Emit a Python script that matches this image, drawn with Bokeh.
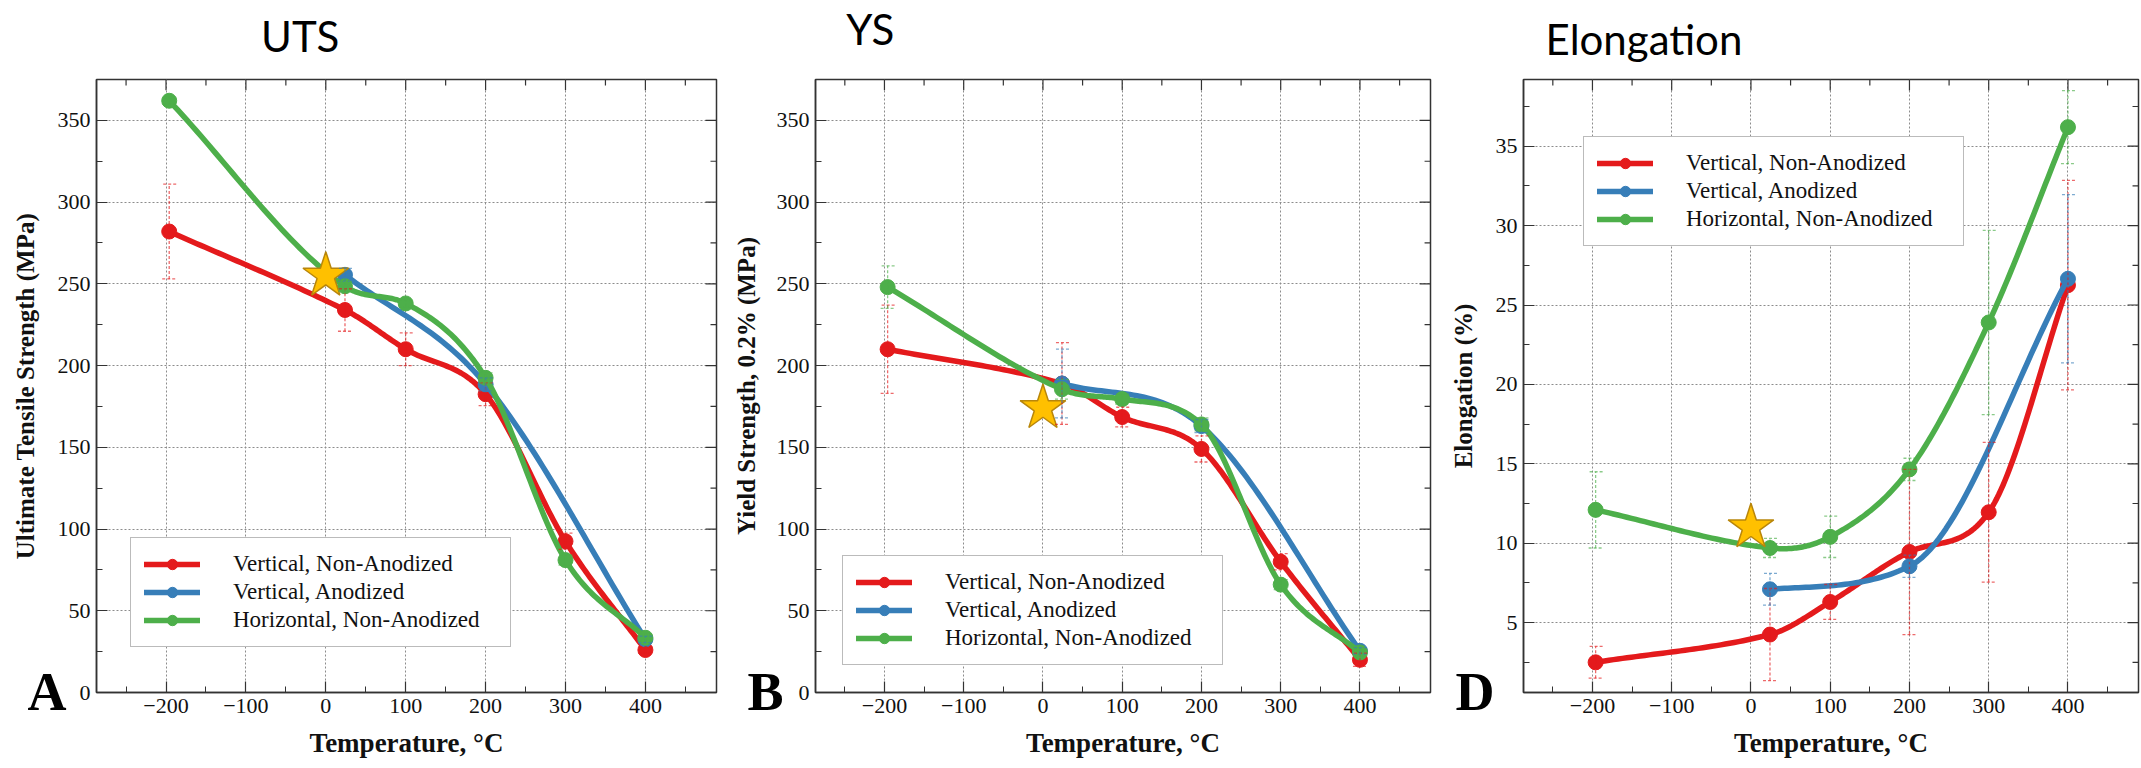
import numpy as np
from bokeh.plotting import figure
from bokeh.models import (ColumnDataSource, Whisker, TeeHead, Legend, LegendItem,
                          LinearAxis, FixedTicker, Range1d, CustomJSTickFormatter)
from bokeh.layouts import row
from bokeh.embed import file_html
from bokeh.resources import INLINE

# ---------------- data ----------------
temps = [-196, 24, 100, 200, 300, 400]
temps_anod = [24, 200, 400]
series_names = ["Vertical, Non-Anodized", "Vertical, Anodized", "Horizontal, Non-Anodized"]
series_colors = ["#E41A1C", "#377EB8", "#4DAF4A"]

uts_vna = [282, 234, 210, 182.5, 92.5, 26]
uts_vna_err = [29, 13, 10, 7, 5, 2]
uts_va = [255.5, 188.5, 32.5]
uts_va_err = [4, 4, 2]
uts_hna = [362, 248.5, 238, 192.5, 81, 33.5]
uts_hna_err = [2, 3, 2, 3, 3, 2]

ys_vna = [210, 189, 168.5, 149, 80, 20]
ys_vna_err = [27, 25, 6, 8, 5, 4]
ys_va = [189, 163, 25.5]
ys_va_err = [21, 4, 2]
ys_hna = [248, 185.5, 179.5, 164, 66, 24.5]
ys_hna_err = [13, 6, 3, 4, 3, 2]

el_vna = [2.5, 4.25, 6.3, 9.45, 11.95, 26.25]
el_vna_err = [1.0, 2.9, 1.1, 5.2, 4.4, 6.6]
el_va = [7.1, 8.55, 26.65]
el_va_err = [1.0, 0.7, 5.3]
el_hna = [12.1, 9.7, 10.4, 14.65, 23.9, 36.2]
el_hna_err = [2.4, 0.6, 1.3, 0.7, 5.8, 2.3]

star_x = [0]
star_uts = [255]
star_ys = [174]
star_el = [11]

x_ticks = [-200, -100, 0, 100, 200, 300, 400]
x_tick_labels = ["\u2212200", "\u2212100", "0", "100", "200", "300", "400"]
x_minor = [-250, -150, -50, 50, 150, 250, 350, 450]
ys_ticks = [0, 50, 100, 150, 200, 250, 300, 350]
ys_minor = [25, 75, 125, 175, 225, 275, 325, 375]
el_ticks = [5, 10, 15, 20, 25, 30, 35]
el_minor = [2.5, 7.5, 12.5, 17.5, 22.5, 27.5, 32.5, 37.5]

SERIF = "Liberation Serif"
XR = (-287, 489)
H = 768


def smooth_curve(xs, ys, n=40):
    """Smooth (monotonicity-limited cubic Hermite) path through the data points."""
    x = np.asarray(xs, float)
    y = np.asarray(ys, float)
    h = np.diff(x)
    d = np.diff(y) / h
    m = np.empty_like(y)
    m[0] = d[0]
    m[-1] = d[-1]
    for i in range(1, len(x) - 1):
        m[i] = (y[i + 1] - y[i - 1]) / (x[i + 1] - x[i - 1])
    for i in range(len(d)):
        if d[i] == 0:
            m[i] = m[i + 1] = 0
            continue
        a, b = m[i] / d[i], m[i + 1] / d[i]
        s = a * a + b * b
        if s > 9:
            tau = 3 / np.sqrt(s)
            m[i] = tau * a * d[i]
            m[i + 1] = tau * b * d[i]
    cx, cy = [], []
    for i in range(len(x) - 1):
        t = np.linspace(0, 1, n)
        h00 = 2 * t**3 - 3 * t**2 + 1
        h10 = t**3 - 2 * t**2 + t
        h01 = -2 * t**3 + 3 * t**2
        h11 = t**3 - t**2
        seg_y = h00 * y[i] + h10 * h[i] * m[i] + h01 * y[i + 1] + h11 * h[i] * m[i + 1]
        seg_x = x[i] + t * h[i]
        cx.extend(seg_x.tolist())
        cy.extend(seg_y.tolist())
    return cx, cy


def style_axis(ax, ticker):
    ax.ticker = ticker
    ax.axis_line_color = "#333333"
    ax.axis_line_width = 1.5
    ax.major_tick_in = 11
    ax.major_tick_out = 0
    ax.minor_tick_in = 6
    ax.minor_tick_out = 0
    ax.major_tick_line_color = "#333333"
    ax.minor_tick_line_color = "#333333"
    ax.major_tick_line_width = 1.2
    ax.minor_tick_line_width = 1.0
    ax.major_label_text_font = SERIF
    ax.major_label_text_font_size = "22px"
    ax.major_label_text_color = "#111111"
    ax.major_label_standoff = 6


def bare_axis(ax):
    ax.axis_line_color = None
    ax.major_tick_line_color = None
    ax.minor_tick_line_color = None
    ax.major_tick_in = 0
    ax.major_tick_out = 0
    ax.minor_tick_in = 0
    ax.minor_tick_out = 0


def make_panel(width, borders, yrange, yticks, yminor, ylabel, data, star_y,
               title, title_x, title_standoff, letter, letter_standoff,
               ylabel_standoff, legend_xy):
    bl, br, bt, bb = borders
    p = figure(width=width, height=H, x_range=Range1d(*XR),
               y_range=Range1d(*yrange), output_backend="svg", toolbar_location=None,
               min_border_left=bl, min_border_right=br, min_border_top=bt,
               min_border_bottom=bb)
    p.title.visible = False
    p.background_fill_color = "white"
    p.border_fill_color = "white"
    p.outline_line_color = "#333333"
    p.outline_line_width = 1.5

    xt = FixedTicker(ticks=x_ticks, minor_ticks=x_minor)
    yt = FixedTicker(ticks=yticks, minor_ticks=yminor)
    style_axis(p.xaxis[0], xt)
    style_axis(p.yaxis[0], yt)
    p.xaxis[0].major_label_overrides = {v: s for v, s in zip(x_ticks, x_tick_labels)}
    p.xaxis[0].axis_label = "Temperature, \u00b0C"
    p.xaxis[0].axis_label_text_font = SERIF
    p.xaxis[0].axis_label_text_font_style = "bold"
    p.xaxis[0].axis_label_text_font_size = "27px"
    p.xaxis[0].axis_label_text_color = "#111111"
    p.xaxis[0].axis_label_standoff = 12

    # panel title (above the frame)
    tax = LinearAxis(ticker=FixedTicker(ticks=[title_x]),
                     formatter=CustomJSTickFormatter(code="return '%s'" % title))
    bare_axis(tax)
    tax.major_label_text_font = "Lato"
    tax.major_label_text_font_size = "42px"
    tax.major_label_text_color = "black"
    tax.major_label_standoff = title_standoff
    p.add_layout(tax, "above")

    # outer left axis: carries the panel letter and the y-axis title
    eps = (yrange[1] - yrange[0]) * 0.001
    lax = LinearAxis(ticker=FixedTicker(ticks=[yrange[0] + eps]),
                     formatter=CustomJSTickFormatter(code="return '%s'" % letter))
    bare_axis(lax)
    lax.major_label_text_font = SERIF
    lax.major_label_text_font_style = "bold"
    lax.major_label_text_font_size = "54px"
    lax.major_label_text_color = "black"
    lax.major_label_standoff = letter_standoff
    lax.axis_label = ylabel
    lax.axis_label_text_font = SERIF
    lax.axis_label_text_font_style = "bold"
    lax.axis_label_text_font_size = "25px"
    lax.axis_label_text_color = "#111111"
    lax.axis_label_standoff = ylabel_standoff
    p.add_layout(lax, "left")

    # mirrored inward ticks on the top and right frame edges
    fw = width - bl - br
    fh = H - bt - bb
    dx = (XR[1] - XR[0]) / fw
    dy = (yrange[1] - yrange[0]) / fh
    tk = dict(line_color="#333333", line_width=1.2)
    p.segment(x0=x_ticks, y0=[yrange[1]] * len(x_ticks), x1=x_ticks,
              y1=[yrange[1] - 11 * dy] * len(x_ticks), **tk)
    p.segment(x0=x_minor, y0=[yrange[1]] * len(x_minor), x1=x_minor,
              y1=[yrange[1] - 6 * dy] * len(x_minor), **tk)
    p.segment(x0=[XR[1]] * len(yticks), y0=yticks, x1=[XR[1] - 11 * dx] * len(yticks),
              y1=yticks, **tk)
    p.segment(x0=[XR[1]] * len(yminor), y0=yminor, x1=[XR[1] - 6 * dx] * len(yminor),
              y1=yminor, **tk)

    p.xgrid.ticker = FixedTicker(ticks=x_ticks)
    p.ygrid.ticker = FixedTicker(ticks=yticks)
    p.grid.grid_line_color = "#8c8c8c"
    p.grid.grid_line_dash = "2 2"
    p.grid.grid_line_width = 1

    items = []
    for (xs, ys, errs), color, name in zip(data, series_colors, series_names):
        src = ColumnDataSource(dict(
            x=xs, y=ys,
            upper=[a + b for a, b in zip(ys, errs)],
            lower=[a - b for a, b in zip(ys, errs)]))
        head = dict(size=14, line_color=color, line_alpha=0.65, line_width=1.3,
                    line_dash="3 2")
        w = Whisker(source=src, base="x", upper="upper", lower="lower",
                    line_color=color, line_alpha=0.65, line_width=1.3, line_dash="3 2",
                    upper_head=TeeHead(**head), lower_head=TeeHead(**head),
                    level="glyph")
        p.add_layout(w)
        cx, cy = smooth_curve(xs, ys)
        l = p.line(cx, cy, line_color=color, line_width=5.5, line_cap="round",
                   line_join="round")
        c = p.scatter("x", "y", source=src, size=15, fill_color=color, line_color=color)
        items.append(LegendItem(label=name, renderers=[l, c]))

    p.scatter(star_x, star_y, marker="star", size=48, fill_color="#FFC000",
              line_color="#B8860B", line_width=1.5)

    leg = Legend(items=items, location=legend_xy)
    leg.label_text_font = SERIF
    leg.label_text_font_size = "23px"
    leg.label_text_color = "#111111"
    leg.padding = 13
    leg.spacing = 2
    leg.glyph_width = 56
    leg.glyph_height = 26
    leg.label_height = 26
    leg.label_width = 264
    leg.label_standoff = 33
    leg.border_line_color = "#777777"
    leg.border_line_width = 1.2
    leg.background_fill_color = "white"
    leg.background_fill_alpha = 1
    p.add_layout(leg)
    return p


pA = make_panel(730, (96, 14, 70, 76), (0, 375), ys_ticks, ys_minor,
                "Ultimate Tensile Strength (MPa)",
                [(temps, uts_vna, uts_vna_err), (temps_anod, uts_va, uts_va_err),
                 (temps, uts_hna, uts_hna_err)],
                star_uts, "UTS", -32, 19, "A", -12, -14, (34, 45))
pB = make_panel(716, (78, 16, 70, 76), (0, 375), ys_ticks, ys_minor,
                "Yield Strength, 0.2% (MPa)",
                [(temps, ys_vna, ys_vna_err), (temps_anod, ys_va, ys_va_err),
                 (temps, ys_hna, ys_hna_err)],
                star_ys, "YS", -218, 26, "B", -10, -16, (27, 27))
pD = make_panel(695, (74, 3, 79, 73), (0.6, 39.2), el_ticks, el_minor,
                "Elongation (%)",
                [(temps, el_vna, el_vna_err), (temps_anod, el_va, el_va_err),
                 (temps, el_hna, el_hna_err)],
                star_el, "Elongation", -135, 16, "D", -2, -24, (60, 446))

layout = row(pA, pB, pD, spacing=0)
open("out.html", "w").write(file_html(layout, INLINE))
